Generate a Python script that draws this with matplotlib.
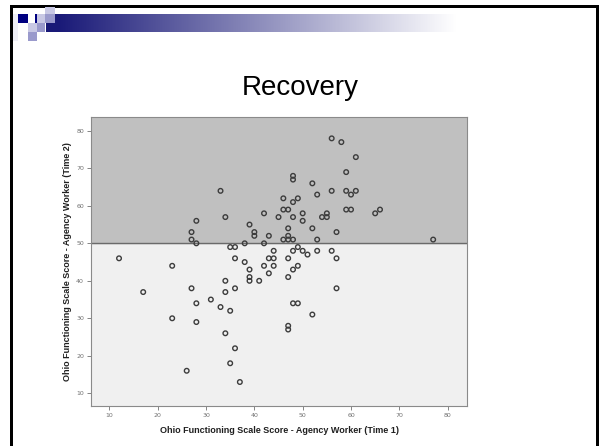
import numpy as np
import matplotlib
matplotlib.use('Agg')
import matplotlib.pyplot as plt
from matplotlib.patches import Rectangle

# Ohio Functioning Scale scores (Time 1, Time 2)
time1 = [33, 46, 46, 47, 42, 45, 34, 28, 47, 39, 40, 40, 43, 46, 47, 47, 48, 27, 27, 28, 38, 42,
         56, 58, 61, 59, 48, 48, 52, 53, 56, 59, 60, 61, 48, 49, 50, 50, 48, 54, 55, 55, 59, 60,
         65, 66, 52, 57, 53, 77,
         35, 36, 12, 23, 36, 38, 44, 43, 44, 47, 42, 44, 39, 43, 39, 39, 34, 41, 47, 36, 27, 17,
         34, 28, 31, 33, 35, 23, 28, 34, 36, 35, 26, 37, 47, 47, 57, 48, 49, 52, 48, 49, 50, 51,
         53, 56, 57, 48, 49]
time2 = [64, 62, 59, 59, 58, 57, 57, 56, 54, 55, 53, 52, 52, 51, 52, 51, 51, 53, 51, 50, 50, 50,
         78, 77, 73, 69, 68, 67, 66, 63, 64, 64, 63, 64, 61, 62, 58, 56, 57, 57, 58, 57, 59, 59,
         58, 59, 54, 53, 51, 51,
         49, 49, 46, 44, 46, 45, 48, 46, 46, 46, 44, 44, 43, 42, 41, 40, 40, 40, 41, 38, 38, 37,
         37, 34, 35, 33, 32, 30, 29, 26, 22, 18, 16, 13, 28, 27, 38, 34, 34, 31, 48, 49, 48, 47,
         48, 48, 46, 43, 44]
cutoff = 50
xticks = [10, 20, 30, 40, 50, 60, 70, 80]
yticks = [10, 20, 30, 40, 50, 60, 70, 80]

W, H = 600, 446
fig = plt.figure(figsize=(6, 4.46), dpi=100)
fig.patch.set_facecolor('white')


def px_rect(x0, y0, x1, y1, color):
    # rectangle given in pixel coords (origin top-left)
    fig.patches.append(Rectangle((x0 / W, 1 - y1 / H), (x1 - x0) / W, (y1 - y0) / H,
                                 transform=fig.transFigure, facecolor=color,
                                 edgecolor='none', zorder=0))


# slide border
px_rect(10, 5, 598, 8, 'black')
px_rect(10, 5, 13, 446, 'black')
px_rect(596, 5, 599, 446, 'black')

# header squares
px_rect(13, 14, 18, 41, '#eeeef6')
px_rect(18, 14, 28, 23, '#000080')
px_rect(37, 14, 45, 23, '#c8c8e4')
px_rect(45, 7, 55, 14, '#c8c8e4')
px_rect(45, 14, 55, 23, '#9a9acc')
px_rect(28, 23, 37, 32, '#c8c8e4')
px_rect(37, 23, 45, 32, '#9a9acc')
px_rect(28, 32, 37, 41, '#9a9acc')
px_rect(35, 14, 37, 23, '#000080')

# header gradient bar
gax = fig.add_axes([46 / W, 1 - 32 / H, (596 - 46) / W, 18 / H])
t = np.clip(np.linspace(-0.03, 1.35, 400), 0, 1)
navy = np.array([0.10, 0.10, 0.47])
grad = navy[None, :] * (1 - t[:, None]) + np.ones(3)[None, :] * t[:, None]
gax.imshow(grad[None, :, :], aspect='auto', extent=[0, 1, 0, 1])
gax.axis('off')
px_rect(46, 14, 55, 23, '#9a9acc')

fig.text(300 / W, 1 - 88 / H, 'Recovery', ha='center', va='center',
         fontsize=20, family='Liberation Sans', color='black')

ax = fig.add_axes([91 / W, 1 - 406 / H, 376 / W, 289 / H])
xlim = (6.2, 84)
ylim = (6.6, 83.7)
ax.set_xlim(xlim)
ax.set_ylim(ylim)
ax.axhspan(ylim[0], cutoff, color='#f0f0f0', zorder=0)
ax.axhspan(cutoff, ylim[1], color='#c0c0c0', zorder=0)
ax.axhline(cutoff, color='#6a6a6a', lw=1.0, zorder=1)
ax.scatter(time1, time2, s=11, facecolors='none', edgecolors='#3c3c3c',
           linewidths=1.0, zorder=3)

ax.set_xticks(xticks)
ax.set_yticks(yticks)
ax.tick_params(labelsize=4.5, colors='#707070', length=3, width=0.6, pad=2)
for s in ax.spines.values():
    s.set_color('#8a8a8a')
    s.set_linewidth(0.8)

ax.set_xlabel('Ohio Functioning Scale Score - Agency Worker (Time 1)',
              fontsize=6.5, fontweight='bold', family='Liberation Sans',
              color='#202020', labelpad=6)
ax.set_ylabel('Ohio Functioning Scale Score - Agency Worker (Time 2)',
              fontsize=6.5, fontweight='bold', family='Liberation Sans',
              color='#202020', labelpad=3)

fig.savefig('out.png', dpi=100)
